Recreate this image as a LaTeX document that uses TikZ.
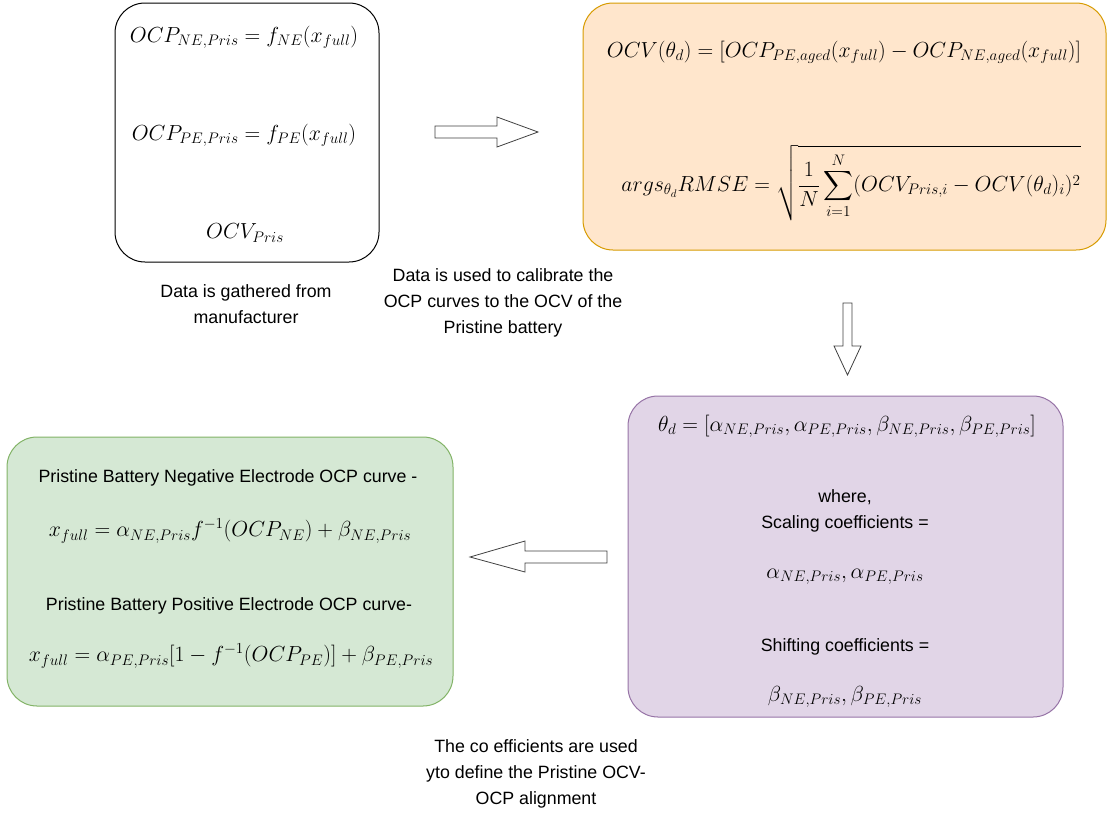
\RequirePackage{fix-cm}
\documentclass[tikz,border=0pt]{standalone}
\usepackage{amsmath}
\usepackage{fontspec}
\newfontfamily\arial{Liberation Sans}
\definecolor{orfill}{HTML}{FFE6CC}
\definecolor{ordraw}{HTML}{D79B00}
\definecolor{pufill}{HTML}{E1D5E7}
\definecolor{pudraw}{HTML}{9673A6}
\definecolor{grfill}{HTML}{D5E8D4}
\definecolor{grdraw}{HTML}{82B366}
\tikzset{
  panel/.style={rectangle, rounded corners=30pt, line width=1pt, inner sep=0pt},
  mth/.style={inner sep=0pt, font=\fontsize{21.8}{26}\selectfont},
  txt/.style={inner sep=0pt, align=center, font=\arial\fontsize{17.8}{26}\selectfont},
  blk/.style={draw=black!75, fill=white, line width=0.8pt, line join=miter}
}
\begin{document}
\begin{tikzpicture}[x=1pt,y=-1pt]
\useasboundingbox (0,0) rectangle (1107,814);
% panels
\node[panel, draw=black, fill=white, minimum width=264pt, minimum height=259pt] (src) at (247,132.5) {};
\node[panel, draw=ordraw, fill=orfill, minimum width=523pt, minimum height=247pt] (cal) at (844.5,126.5) {};
\node[panel, draw=pudraw, fill=pufill, minimum width=435pt, minimum height=321pt] (par) at (845.5,556.5) {};
\node[panel, draw=grdraw, fill=grfill, minimum width=446pt, minimum height=269pt] (res) at (230,571.5) {};
% source box
\node[mth] (s1) at (244,37) {$OCP_{NE,Pris}=f_{NE}(x_{full})$};
\node[mth] (s2) at (244,135) {$OCP_{PE,Pris}=f_{PE}(x_{full})$};
\node[mth] (s3) at (245,233) {$OCV_{Pris}$};
% calibration box
\node[mth] (c1) at (844,52) {$OCV(\theta_d)=[OCP_{PE,aged}(x_{full})-OCP_{NE,aged}(x_{full})]$};
\node[mth] (c2) at (851,183) {$\displaystyle args_{\theta_d}RMSE=\sqrt{\frac{1}{N}\sum_{i=1}^{N}(OCV_{Pris,i}-OCV(\theta_d)_i)^2}$};
% parameter box
\node[mth] (p1) at (847,426) {$\theta_d=[\alpha_{NE,Pris},\alpha_{PE,Pris},\beta_{NE,Pris},\beta_{PE,Pris}]$};
\node[txt] (p2) at (845,511) {where,\\Scaling coefficients =};
\node[mth] (p3) at (845,577) {$\alpha_{NE,Pris},\alpha_{PE,Pris}$};
\node[txt] (p4) at (845,647) {Shifting coefficients =};
\node[mth] (p5) at (845,697) {$\beta_{NE,Pris},\beta_{PE,Pris}$};
% result box
\node[txt] (r1) at (228,478) {Pristine Battery Negative Electrode OCP curve -};
\node[mth] (r2) at (230,531) {$x_{full}=\alpha_{NE,Pris}f^{-1}(OCP_{NE})+\beta_{NE,Pris}$};
\node[txt] (r3) at (229,606) {Pristine Battery Positive Electrode OCP curve-};
\node[mth] (r4) at (231,656) {$x_{full}=\alpha_{PE,Pris}[1-f^{-1}(OCP_{PE})]+\beta_{PE,Pris}$};
% captions
\node[txt] (l1) at (246,304) {Data is gathered from\\manufacturer};
\node[txt] (l2) at (503,303) {Data is used to calibrate the\\OCP curves to the OCV of the\\Pristine battery};
\node[txt] (l3) at (536,774) {The co efficients are used\\yto define the Pristine OCV-\\OCP alignment};
% block arrows
\draw[blk] (435,126) -- (497,126) -- (497,117) -- (538,132) -- (497,147) -- (497,138) -- (435,138) -- cycle;
\draw[blk] (843,303) -- (852,303) -- (852,346) -- (861,346) -- (847.5,375) -- (834,346) -- (843,346) -- cycle;
\draw[blk] (607,551) -- (525,551) -- (525,541) -- (470,557) -- (525,572) -- (525,563) -- (607,563) -- cycle;
\end{tikzpicture}
\end{document}
